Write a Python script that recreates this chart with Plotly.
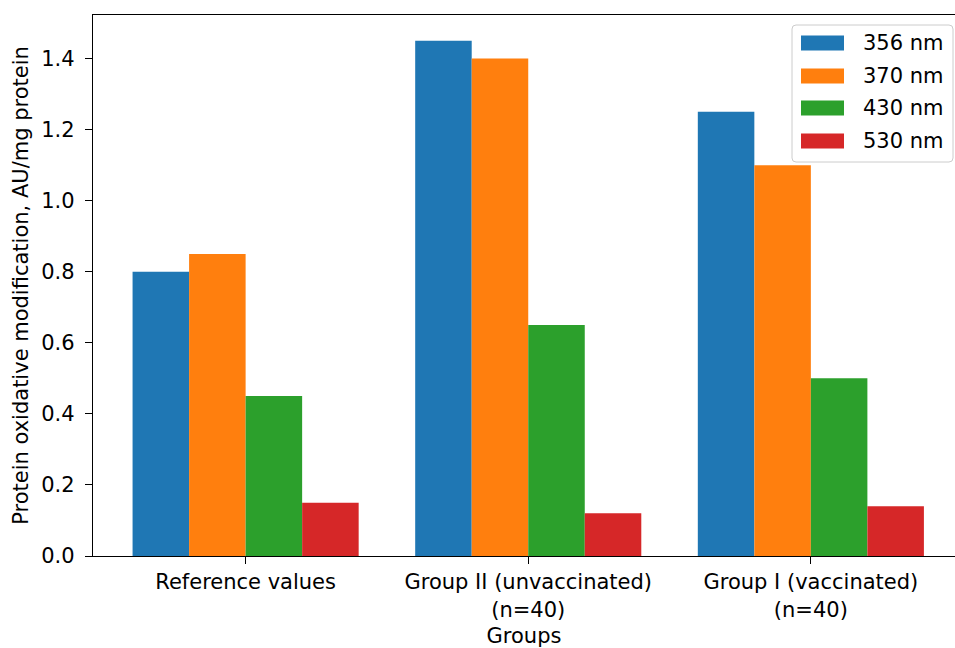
import plotly.graph_objects as go

# Groups on the x axis
groups = [
    "Reference values",
    "Group II (unvaccinated)<br>(n=40)",
    "Group I (vaccinated)<br>(n=40)",
]

# Wavelength series (AU/mg protein)
wavelengths = ["356 nm", "370 nm", "430 nm", "530 nm"]
v356 = [0.80, 1.45, 1.25]
v370 = [0.85, 1.40, 1.10]
v430 = [0.45, 0.65, 0.50]
v530 = [0.15, 0.12, 0.14]

series = [v356, v370, v430, v530]
colors = ["#1f77b4", "#ff7f0e", "#2ca02c", "#d62728"]

FONT = "DejaVu Sans, Arial, sans-serif"

# plot area in pixels (used to express legend geometry in paper units)
W, H = 955, 648
ML, MR, MT, MB = 93, 0, 15, 92
PW, PH = W - ML - MR, H - MT - MB


def px_x(px):
    return (px - ML) / PW


def px_y(py):
    return (H - MB - py) / PH


fig = go.Figure()
for name, vals, col in zip(wavelengths, series, colors):
    fig.add_trace(go.Bar(
        x=groups, y=vals, name=name,
        marker=dict(color=col, line=dict(width=0)),
        showlegend=False,
    ))

# Legend frame with rounded corners
x0, x1 = px_x(792), px_x(953)
y0, y1 = px_y(162), px_y(25)
rx, ry = 4 / PW, 4 / PH
frame = (
    f"M {x0 + rx},{y1} L {x1 - rx},{y1} Q {x1},{y1} {x1},{y1 - ry} "
    f"L {x1},{y0 + ry} Q {x1},{y0} {x1 - rx},{y0} "
    f"L {x0 + rx},{y0} Q {x0},{y0} {x0},{y0 + ry} "
    f"L {x0},{y1 - ry} Q {x0},{y1} {x0 + rx},{y1} Z"
)
shapes = [dict(
    type="path", xref="paper", yref="paper", path=frame,
    line=dict(color="#cccccc", width=1), fillcolor="rgba(255,255,255,0.8)",
    layer="above",
)]
annotations = []
row_centers = [43, 76, 108, 141]
for name, col, yc_px in zip(wavelengths, colors, row_centers):
    yc = px_y(yc_px)
    shapes.append(dict(
        type="rect", xref="paper", yref="paper",
        x0=px_x(801), x1=px_x(844), y0=px_y(yc_px + 7.5), y1=px_y(yc_px - 7.5),
        line=dict(width=0), fillcolor=col, layer="above",
    ))
    annotations.append(dict(
        xref="paper", yref="paper", x=px_x(861), y=yc,
        xanchor="left", yanchor="middle", showarrow=False,
        text=name, font=dict(family=FONT, size=21, color="#000000"),
    ))

fig.update_layout(
    width=W, height=H,
    margin=dict(l=ML, r=MR, t=MT, b=MB),
    paper_bgcolor="white", plot_bgcolor="white",
    barmode="group", bargap=0.2, bargroupgap=0,
    font=dict(family=FONT, size=21, color="#000000"),
    shapes=shapes, annotations=annotations,
    xaxis=dict(
        range=[-0.54, 2.51],
        showline=True, linecolor="#000000", linewidth=1.3, mirror=True,
        ticks="outside", ticklen=7, tickwidth=1.2, tickcolor="#000000",
        tickfont=dict(size=21),
        showgrid=False, zeroline=False,
        title=dict(text="Groups", font=dict(size=21), standoff=8),
    ),
    yaxis=dict(
        range=[0, 1.5225],
        tickmode="linear", tick0=0, dtick=0.2, tickformat=".1f",
        showline=True, linecolor="#000000", linewidth=1.3, mirror=False,
        ticks="outside", ticklen=7, tickwidth=1.2, tickcolor="#000000",
        tickfont=dict(size=21), ticklabelstandoff=6,
        showgrid=False, zeroline=False,
        title=dict(text="Protein oxidative modification, AU/mg protein",
                   font=dict(size=21), standoff=6),
    ),
)

fig.write_html("out.html")
